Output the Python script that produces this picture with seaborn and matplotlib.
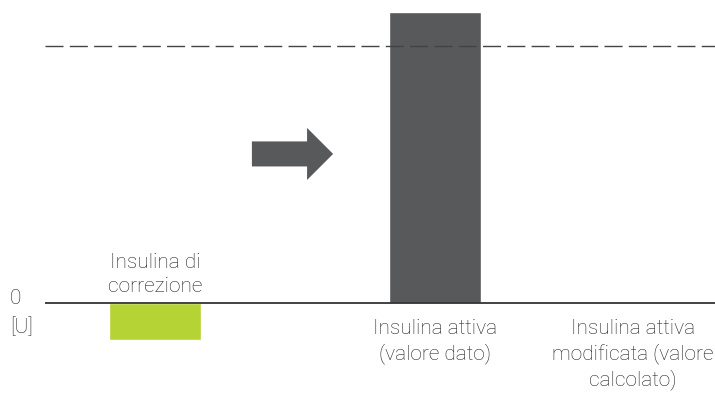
import matplotlib
matplotlib.use("Agg")
import matplotlib.pyplot as plt
from matplotlib.patches import FancyArrow
import seaborn as sns
import pandas as pd

# Insulin values [U]
categories = ["Insulina di correzione", "Insulina attiva (valore dato)", "Insulina attiva modificata (valore calcolato)"]
values = [-1.27, 10.0, 0.0]
threshold = 8.83
bar_colors = ["#b5d334", "#58595b", "#58595b"]

label_lines = ["Insulina di\ncorrezione", "Insulina attiva\n(valore dato)", "Insulina attiva\nmodificata (valore\ncalcolato)"]

sns.set_theme(style="white")
plt.rcParams["font.family"] = ["Roboto", "DejaVu Sans"]

df = pd.DataFrame({"cat": categories, "val": values})

fig = plt.figure(figsize=(7.15, 3.94), dpi=100)
ax = fig.add_axes([45 / 715, 0, 670 / 715, 1])

sns.barplot(data=df, x="cat", y="val", hue="cat", palette=bar_colors,
            width=0.33, legend=False, ax=ax, saturation=1)

ax.set_xlim(-0.393, 2.0)
ax.set_ylim(-3.13, 10.41)

# zero line and reference line
ax.axhline(0, color="#333333", lw=1.3, zorder=3)
ax.axhline(threshold, color="#444444", lw=1.0, dashes=(13, 4.5), zorder=1)

# arrow between the first two groups
ax.add_patch(FancyArrow(0.346, 5.12, 0.29, 0, width=0.86, head_width=1.79,
                        head_length=0.093, length_includes_head=True,
                        color="#58595b", lw=0))

txt = dict(fontsize=15, color="#222222", ha="center", linespacing=1.32,
           fontweight="light")
ax.text(0, 0.25, label_lines[0], va="bottom", **txt)
ax.text(1, -0.55, label_lines[1], va="top", **txt)
ax.text(1.707, -0.55, label_lines[2], va="top", **txt)

side = dict(fontsize=15, color="#222222", ha="center", va="center", fontweight="light")
fig.text(15 / 715, 1 - 298 / 394, "0", **side)
fig.text(22 / 715, 1 - 327 / 394, "[U]", **side)

ax.set_xlabel("")
ax.set_ylabel("")
ax.set_xticks([])
ax.set_yticks([])
sns.despine(ax=ax, left=True, bottom=True)

fig.savefig("out.png", dpi=100)
